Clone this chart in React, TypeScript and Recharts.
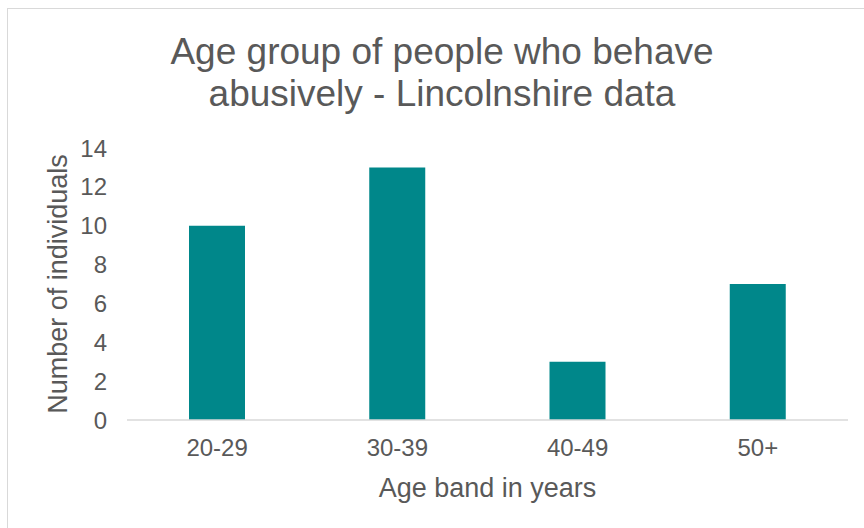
import { BarChart, Bar, XAxis, YAxis, Label } from "recharts";

const AGE_BANDS = ["20-29", "30-39", "40-49", "50+"];
const INDIVIDUALS = [10, 13, 3, 7];
const Y_TICKS = [0, 2, 4, 6, 8, 10, 12, 14];

const TEXT = "#595959";
const TEAL = "#00878A";
const FONT = '"Liberation Sans", Arial, sans-serif';

const data = AGE_BANDS.map((band, i) => ({ band, value: INDIVIDUALS[i] }));

export default function App() {
  return (
    <div
      style={{
        position: "fixed",
        left: 0,
        top: 0,
        width: 864,
        height: 528,
        overflow: "hidden",
        background: "#fff",
        fontFamily: FONT,
      }}
    >
      {/* chart frame, only left and top edges fall inside the picture */}
      <div
        style={{
          position: "absolute",
          left: 7,
          top: 8,
          width: 900,
          height: 600,
          border: "1px solid #d9d9d9",
        }}
      />
      <div
        style={{
          position: "absolute",
          left: 0,
          top: 31,
          width: 884,
          textAlign: "center",
          fontSize: 37,
          lineHeight: "42px",
          color: TEXT,
        }}
      >
        Age group of people who behave
        <br />
        abusively - Lincolnshire data
      </div>
      <div style={{ position: "absolute", left: 0, top: 0 }}>
        <BarChart
          width={864}
          height={528}
          data={data}
          margin={{ top: 148, right: 16, left: 0, bottom: 0 }}
          barSize={56}
        >
          <XAxis
            dataKey="band"
            height={108}
            axisLine={{ stroke: "#d9d9d9", strokeWidth: 1.5 }}
            tickLine={false}
            tickSize={0}
            tickMargin={19}
            tick={{ fontSize: 24, fill: TEXT, fontFamily: FONT }}
          >
            <Label
              value="Age band in years"
              position="insideBottom"
              offset={31}
              style={{ fontSize: 27, fill: TEXT, fontFamily: FONT }}
            />
          </XAxis>
          <YAxis
            width={127}
            domain={[0, 14]}
            ticks={Y_TICKS}
            axisLine={false}
            tickLine={false}
            tickSize={0}
            tickMargin={20}
            tick={{ fontSize: 24, fill: TEXT, fontFamily: FONT }}
          >
            <Label
              value="Number of individuals"
              angle={-90}
              position="insideLeft"
              offset={57}
              style={{ fontSize: 27, fill: TEXT, fontFamily: FONT, textAnchor: "middle" }}
            />
          </YAxis>
          <Bar dataKey="value" fill={TEAL} isAnimationActive={false} />
        </BarChart>
      </div>
    </div>
  );
}
